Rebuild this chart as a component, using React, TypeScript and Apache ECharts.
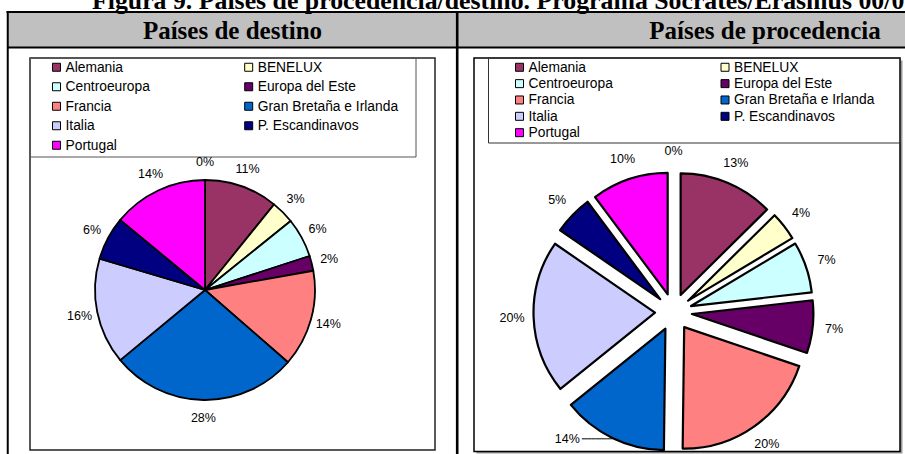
import React, { useEffect, useRef } from 'react';
import * as echarts from 'echarts';

const titleText = 'Figura 9. Países de procedencia/destino. Programa Sócrates/Erasmus 00/01';
const panelTitles = ['Países de destino', 'Países de procedencia'];

const categories = [
  'Alemania',
  'BENELUX',
  'Centroeuropa',
  'Europa del Este',
  'Francia',
  'Gran Bretaña e Irlanda',
  'Italia',
  'P. Escandinavos',
  'Portugal',
  'Otros',
];
// shares (%)
const destinoValues = [10.8, 3.4, 5.8, 2.2, 14.2, 27.6, 15.6, 6.4, 14.0, 0];
const procedenciaValues = [12.6, 3.8, 6.8, 7.0, 20.0, 14.0, 20.4, 5.2, 10.2, 0];
const sliceColors = [
  '#993366', '#FFFFCC', '#CCFFFF', '#660066', '#FF8080',
  '#0066CC', '#CCCCFF', '#000080', '#FF00FF', 'transparent',
];
const legendColumn1 = ['Alemania', 'Centroeuropa', 'Francia', 'Italia', 'Portugal'];
const legendColumn2 = ['BENELUX', 'Europa del Este', 'Gran Bretaña e Irlanda', 'P. Escandinavos'];
const leaderLabelCategory = 'Gran Bretaña e Irlanda';

const SANS = '"Liberation Sans", Arial, sans-serif';
const SERIF = '"Liberation Serif", "Times New Roman", serif';

const pctFormatter = (p: any) => Math.round(p.percent) + '%';

function makeLegend(names: string[], left: number, top: number, lineHeight: number) {
  return {
    orient: 'vertical',
    left,
    top,
    padding: 0,
    itemGap: 0,
    itemWidth: 8,
    itemHeight: 8,
    icon: 'rect',
    selectedMode: false,
    itemStyle: { borderColor: '#000', borderWidth: 1 },
    textStyle: { fontFamily: SANS, fontSize: 13.8, color: '#000', lineHeight },
    data: names,
  };
}

export default function App() {
  const ref = useRef<HTMLDivElement>(null);

  useEffect(() => {
    if (!ref.current) return;
    const chart = echarts.init(ref.current, undefined, { renderer: 'svg' });

    const leftCenter = [205, 290];
    const rightCenter = [673.5, 312];

    const labelStyle = {
      fontFamily: SANS,
      fontSize: 12.5,
      color: '#000',
    };

    const option: any = {
      animation: false,
      backgroundColor: '#fff',
      graphic: [
        { type: 'rect', shape: { x: 8, y: 13, width: 910, height: 34 }, style: { fill: '#C0C0C0' } },
        { type: 'line', shape: { x1: 6.5, y1: 12, x2: 920, y2: 12 }, style: { stroke: '#000', lineWidth: 2 } },
        { type: 'line', shape: { x1: 7.75, y1: 11, x2: 7.75, y2: 460 }, style: { stroke: '#000', lineWidth: 2 } },
        { type: 'line', shape: { x1: 7, y1: 47.6, x2: 920, y2: 47.6 }, style: { stroke: '#000', lineWidth: 2 } },
        { type: 'line', shape: { x1: 457.2, y1: 11, x2: 457.2, y2: 460 }, style: { stroke: '#000', lineWidth: 2.6 } },
        {
          type: 'text', x: 92, y: 0,
          style: { text: titleText, font: 'bold 25.8px ' + SERIF, fill: '#000', align: 'left', verticalAlign: 'middle' },
        },
        {
          type: 'text', x: 232.5, y: 30.2,
          style: { text: panelTitles[0], font: 'bold 25px ' + SERIF, fill: '#000', align: 'center', verticalAlign: 'middle' },
        },
        {
          type: 'text', x: 765, y: 30.2,
          style: { text: panelTitles[1], font: 'bold 25px ' + SERIF, fill: '#000', align: 'center', verticalAlign: 'middle' },
        },
        // left chart area
        { type: 'rect', shape: { x: 30, y: 58, width: 405, height: 392 }, style: { fill: '#fff', stroke: '#222', lineWidth: 1.5 } },
        { type: 'rect', shape: { x: 30.5, y: 58, width: 385.5, height: 99 }, style: { fill: 'none', stroke: '#555', lineWidth: 1 } },
        // right chart area with shadow
        { type: 'rect', shape: { x: 476.5, y: 60.5, width: 426, height: 393 }, style: { fill: '#999', stroke: 'none' } },
        { type: 'rect', shape: { x: 474, y: 58, width: 426, height: 393.5 }, style: { fill: '#fff', stroke: '#000', lineWidth: 1.5 } },
        { type: 'rect', shape: { x: 488.5, y: 58, width: 412, height: 85 }, style: { fill: 'none', stroke: '#333', lineWidth: 1 } },
      ],
      legend: [
        makeLegend(legendColumn1, 52, 57.5, 19.5),
        makeLegend(legendColumn2, 244.2, 57.5, 19.5),
        makeLegend(legendColumn1, 515, 59.1, 16.35),
        makeLegend(legendColumn2, 720.5, 59.1, 16.35),
      ],
      series: [
        {
          type: 'pie',
          center: leftCenter,
          radius: 110,
          startAngle: 90,
          clockwise: true,
          silent: true,
          avoidLabelOverlap: false,
          emphasis: { disabled: true },
          label: { show: false },
          labelLine: { show: false },
          data: categories.map((name, i) => ({
            name,
            value: destinoValues[i],
            itemStyle: {
              color: sliceColors[i],
              borderColor: '#000',
              borderWidth: destinoValues[i] === 0 ? 0 : 1.8,
            },
          })),
        },
        {
          type: 'pie',
          center: leftCenter,
          radius: [115, 135],
          startAngle: 90,
          clockwise: true,
          silent: true,
          avoidLabelOverlap: false,
          emphasis: { disabled: true },
          itemStyle: { color: 'transparent', borderWidth: 0 },
          label: { show: true, position: 'inside', formatter: pctFormatter, ...labelStyle },
          labelLine: { show: false },
          data: categories.map((name, i) => ({ name, value: destinoValues[i] })),
        },
        {
          type: 'pie',
          center: rightCenter,
          radius: 121.5,
          startAngle: 90,
          clockwise: true,
          silent: true,
          selectedMode: 'multiple',
          selectedOffset: 18.5,
          avoidLabelOverlap: false,
          emphasis: { disabled: true },
          select: { itemStyle: { borderColor: '#000', borderWidth: 2.2 } },
          label: { show: false },
          labelLine: { show: false },
          data: categories.map((name, i) => {
            const isZero = procedenciaValues[i] === 0;
            const item: any = {
              name,
              value: procedenciaValues[i],
              selected: !isZero,
              itemStyle: {
                color: sliceColors[i],
                borderColor: '#000',
                borderWidth: isZero ? 0 : 2.2,
              },
            };
            if (name === leaderLabelCategory) {
              item.label = {
                show: true,
                position: 'outside',
                formatter: pctFormatter,
                distanceToLabelLine: 2,
                ...labelStyle,
              };
              item.labelLine = {
                show: true,
                length: 1,
                length2: 30,
                smooth: 0.3,
                lineStyle: { color: '#000', width: 1 },
              };
            }
            return item;
          }),
        },
        {
          type: 'pie',
          center: rightCenter,
          radius: [148, 169],
          startAngle: 90,
          clockwise: true,
          silent: true,
          avoidLabelOverlap: false,
          emphasis: { disabled: true },
          itemStyle: { color: 'transparent', borderWidth: 0 },
          label: { show: true, position: 'inside', formatter: pctFormatter, ...labelStyle },
          labelLine: { show: false },
          data: categories.map((name, i) => ({
            name,
            value: procedenciaValues[i],
            label: name === leaderLabelCategory ? { show: false } : undefined,
          })),
        },
      ],
    };

    chart.setOption(option);
    return () => {
      chart.dispose();
    };
  }, []);

  return (
    <div
      ref={ref}
      style={{ position: 'fixed', left: 0, top: 0, width: 905, height: 454, background: '#fff' }}
    />
  );
}
